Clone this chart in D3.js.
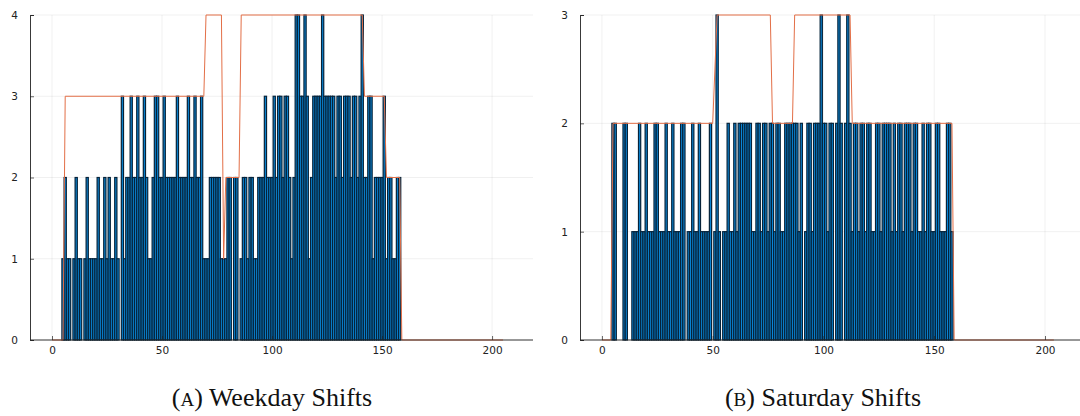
<!DOCTYPE html>
<html>
<head>
<meta charset="utf-8">
<script src="https://cdn.jsdelivr.net/npm/d3@7"></script>
<style>
  html, body { margin: 0; padding: 0; background: #fff; }
  svg { display: block; }
</style>
</head>
<body>
<svg id="chart" width="1080" height="416"></svg>
<script>
// Staff on duty per time slot (slot index starts at 1)
const weekdayStaff = [
  0,0,0,0,1,2,1,1,0,1, 2,1,1,0,1,2,1,1,1,1, 2,1,1,2,1,2,1,1,2,1,
  0,3,1,2,2,3,2,2,3,2, 2,3,2,1,1,2,3,3,2,2, 3,2,2,2,2,2,3,2,2,2,
  2,3,2,2,3,2,2,3,1,1, 1,2,2,2,2,2,1,1,1,2, 2,0,2,2,0,1,2,2,1,2,
  2,1,1,2,2,2,3,2,2,2, 3,2,3,3,2,3,3,2,1,2, 4,4,3,3,4,3,1,2,3,3,
  3,3,4,3,3,3,3,3,2,3, 3,2,3,3,3,2,3,3,2,3, 4,2,2,3,3,1,2,2,2,2,
  3,1,2,2,1,1,2,2,0,0
];
const saturdayStaff = [
  0,0,0,0,2,2,0,0,0,2, 2,0,0,1,1,1,2,1,1,2, 1,1,1,2,2,1,1,1,2,1,
  1,2,1,1,1,2,2,0,1,1, 2,1,1,2,1,1,1,1,2,0, 1,3,1,0,1,1,2,1,1,2,
  1,2,2,2,2,2,2,1,1,2, 2,1,2,2,1,2,2,1,2,2, 1,1,2,2,2,2,2,2,1,2,
  0,1,2,2,1,2,2,2,3,2, 2,1,2,2,0,2,3,2,0,2, 3,2,1,2,2,1,2,2,1,2,
  2,1,1,2,2,1,2,2,2,2, 1,2,1,2,2,1,2,2,2,1, 2,2,1,1,2,1,2,2,1,1,
  2,2,1,1,1,2,2,1,0,0
];
// Staffing requirement as step vertices [slot, staff]
const weekdayRequired = [
  [0,0],[5,0],[6,3],[69,3],[70,4],[77,4],[78,1],[79,2],[85,2],[86,4],
  [141,4],[142,3],[151,3],[152,2],[158,2],[159,0],[205,0]
];
const saturdayRequired = [
  [0,0],[4,0],[5,2],[50,2],[52,3],[76,3],[77,2],[86,2],[87,3],[112,3],
  [113,2],[158,2],[159,0],[204,0]
];
const xTicks = [0, 50, 100, 150, 200];
const weekdayYTicks = [0, 1, 2, 3, 4];
const saturdayYTicks = [0, 1, 2, 3];
const captions = [["A", "Weekday Shifts"], ["B", "Saturday Shifts"]];

const svg = d3.select("#chart");
const barColor = "#0a86d6";
const barEdge = "#06233a";
const lineColor = "#E36F47";

function panel(opts) {
  const g = svg.append("g");
  const x = d3.scaleLinear().domain(opts.xDomain).range(opts.xRange);
  const y = d3.scaleLinear().domain([0, opts.yMax]).range([340, 15]);

  // grid
  g.append("g").selectAll("line").data(xTicks).join("line")
    .attr("x1", d => x(d)).attr("x2", d => x(d))
    .attr("y1", y(0)).attr("y2", y(opts.yMax))
    .attr("stroke", "#000").attr("stroke-opacity", 0.1).attr("stroke-width", 0.6);
  g.append("g").selectAll("line").data(opts.yTicks).join("line")
    .attr("x1", opts.xRange[0]).attr("x2", opts.xRange[1])
    .attr("y1", d => y(d)).attr("y2", d => y(d))
    .attr("stroke", "#000").attr("stroke-opacity", 0.1).attr("stroke-width", 0.6);

  // bars
  const bars = opts.values.map((v, i) => ({ slot: i + 1, v }));
  g.append("g").selectAll("rect").data(bars.filter(d => d.v > 0)).join("rect")
    .attr("x", d => x(d.slot - 0.5))
    .attr("width", d => x(d.slot + 0.5) - x(d.slot - 0.5))
    .attr("y", d => y(d.v))
    .attr("height", d => y(0) - y(d.v))
    .attr("fill", barColor)
    .attr("stroke", barEdge)
    .attr("stroke-width", 1.2);

  // requirement line
  g.append("path")
    .datum(opts.required)
    .attr("d", d3.line().x(d => x(d[0])).y(d => y(d[1])))
    .attr("fill", "none")
    .attr("stroke", lineColor)
    .attr("stroke-width", 1);

  // axes
  const xAxis = d3.axisBottom(x).tickValues(xTicks).tickSize(-4).tickPadding(7);
  const xa = g.append("g").attr("transform", `translate(0,${y(0)})`).call(xAxis);
  xa.select(".domain").attr("d", `M${opts.xRange[0]},0H${opts.xRange[1]}`);
  const yAxis = d3.axisLeft(y).tickValues(opts.yTicks).tickFormat(d3.format("d")).tickSize(-4).tickPadding(12);
  const ya = g.append("g").attr("transform", `translate(${opts.xRange[0]},0)`).call(yAxis);
  [xa, ya].forEach(a => {
    a.selectAll("text").attr("font-family", "DejaVu Sans").attr("font-size", 10.5).attr("fill", "#222");
    a.selectAll("line").attr("stroke", "#222").attr("stroke-width", 0.7);
    a.select(".domain").attr("stroke", "#222").attr("stroke-width", 0.9);
  });

  // caption
  const cap = svg.append("text")
    .attr("x", opts.captionX).attr("y", 406)
    .attr("text-anchor", "middle")
    .attr("font-family", "Liberation Serif")
    .attr("font-size", 26)
    .attr("fill", "#111");
  cap.append("tspan").text("(");
  cap.append("tspan").attr("font-size", 19).text(opts.caption[0]);
  cap.append("tspan").text(") " + opts.caption[1]);
}

panel({
  values: weekdayStaff, required: weekdayRequired, yMax: 4, yTicks: weekdayYTicks,
  xDomain: [-10, 218.6], xRange: [30, 533], captionX: 272, caption: captions[0]
});
panel({
  values: saturdayStaff, required: saturdayRequired, yMax: 3, yTicks: saturdayYTicks,
  xDomain: [-9.9, 215.8], xRange: [580, 1080], captionX: 823, caption: captions[1]
});
</script>
</body>
</html>
